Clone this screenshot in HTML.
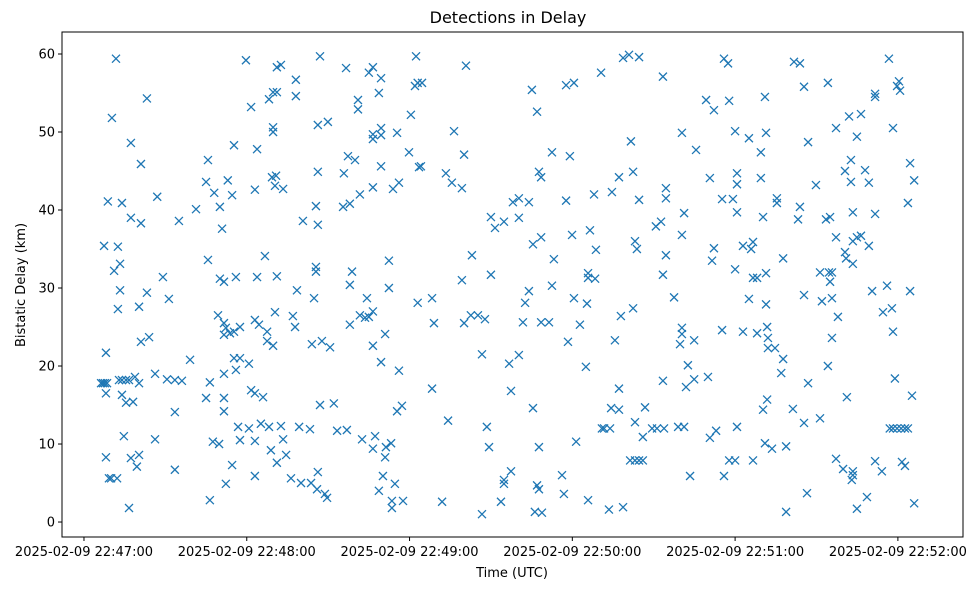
<!DOCTYPE html>
<html><head><meta charset="utf-8"><style>
html,body{margin:0;padding:0;background:#fff;}
svg{display:block;font-family:"DejaVu Sans","Liberation Sans",sans-serif;}
</style></head><body>
<svg id="chart" width="979" height="590" viewBox="0 0 979 590">
<rect x="0" y="0" width="979" height="590" fill="#fff"/>
<text x="508" y="23" text-anchor="middle" font-size="16" fill="#000">Detections in Delay</text>
<g id="marks"></g>
<g id="xticks"></g>
<g id="yticks"></g>
<rect x="62" y="32" width="901" height="505" fill="none" stroke="#000" stroke-width="1"/>
<text x="512" y="577" text-anchor="middle" font-size="13" fill="#000">Time (UTC)</text>
<text x="25" y="285" text-anchor="middle" font-size="13" fill="#000" transform="rotate(-90 25 285)">Bistatic Delay (km)</text>
</svg>
<script>
// seconds after 22:47:00
const times = [11.8,23.2,10.3,17.3,21,45.7,55.3,59.7,61.6,45,53,48,54.6,8.8,14,27,41.3,50.1,17.3,21,35,50.9,7.4,12.5,13.3,11.1,45.7,29.1,50.1,51.6,56,13.3,23.2,31.3,12.5,20.3,49.4,51.6,52.3,51.6,53.8,55.3,57.5,21,24,8.1,39.1,55.3,57.5,60.8,56,51.6,26.2,6.3,7,7.7,8.5,12.9,14,15.5,16.6,18.8,20.3,30.6,33.5,36.1,46.4,8.1,14,15.5,18.1,45,51.6,51.6,33.5,61.6,14.7,26.2,56.8,60.8,57.5,47.5,49.8,8.1,17.3,20.3,19.5,33.5,54.6,9.2,10,12.2,52.3,46.4,16.6,
71.1,72.6,87,96.6,105,106.5,109.5,122.4,122,123,78.1,78.1,69.7,71.1,68.2,101,101,108.7,120.5,69.7,69.7,86.2,89.9,106.5,106.5,109.5,109.5,115.4,63.8,97.3,99.9,119.8,109.5,123.5,69.3,70.8,70.4,73.4,63,86.2,95.8,106.5,113.9,116.1,101.7,95.5,98,85.5,80.7,86.2,66.7,63.8,71.1,85.5,85.5,98.8,98,112.4,112.4,78.5,84.8,104.3,123,70.4,77,77.8,63,64.5,67.5,67.5,69.7,101.7,103.6,105,106.5,98,84,87.7,90.7,106.5,111,109.5,116.1,63,66,87,92.1,115.4,117.2,65.2,68.2,72.6,79.3,83.3,93.3,96.9,102.5,107.3,63,73.4,68.9,74.5,71.1,106.5,111.3,113.2,111,63,76.3,80,83.7,86.2,85.9,88.8,89.6,110.2,114.6,108.7,113.5,113.5,117.6,
140.8,124.6,165.1,177.7,180.6,167,136.4,140.1,124.2,172.5,179.1,133.4,135.6,139.3,167.7,168.5,158.1,160.3,164,177.7,150,151.5,154.8,160.3,168.5,165.5,179.9,186.5,143,173.2,139.3,150,164,162.6,172.5,180.6,185.8,185.8,128.3,129,140.1,142.6,145.2,147.8,161.8,168.5,171.4,182.8,185.4,178.4,146.7,156.7,160.3,185,128.3,157.4,165.5,134.2,148.5,149.3,167.7,181.4,157.4,154.8,154.8,167,167.7,176.2,176.9,185.8,132,146.7,153.7,166.2,168.8,
198.7,200.9,204.6,190.6,213.4,235.9,237.4,229.3,232.2,237.8,251,220.4,240,245.1,251.4,249.5,201.6,225.6,197.2,202.4,230.7,240.7,240.7,249.5,188,194.6,204.6,214.5,214.5,235.2,239.2,240.7,221.2,250.3,210.8,212.7,220.4,188.7,203.1,203.8,214.5,232.2,231.5,242.9,246.6,245.9,188.4,213.4,240,246.6,248.1,251.4,217.5,197.9,202.4,245.1,251.4,195.7,220.4,220.4,219.7,224.9,235.2,242.9,248.1,251.8,252.1,252.1,222.6,224.9,221.9,230,213.4,197.2,194.3,197.2,206.8,203.1,206,190.9,191.7,193.9,209.4,211.2,213.8,219,221.2,230.7,233,240.7,250.3,251.8,251,201.3,203.1,204.6,206,237.8,240,246.6,223.4,235.9,193.5,198.7,
261.7,263.9,296.7,265.4,274.2,300.4,299.7,300.8,291.6,291.6,282,286.4,277.2,284.9,298.2,266.9,282.7,280.5,287.9,282.7,289.3,304.5,306,269.8,255.4,255.4,263.9,263.2,273.5,275,283.4,291.6,303.7,277.2,283.4,284.9,286.4,289.3,257.7,280.5,280.9,283.4,271.3,274.6,275.7,275,265.4,272,275.7,290.5,296,304.5,294.5,297.8,277.9,275.7,298.2,254.7,257.7,257,274.2,266.9,298.9,281.2,305.2,261.3,265.4,271.3,297,298.2,299.7,301.2,302.6,303.7,253.6,258.8,277.2,279.8,283.4,283.4,283,291.6,294.1,301.5,302.6,266.5,288.6,284.9,258.8,306];
// bistatic delay, km
const delays = [59.4,54.3,51.8,48.6,45.9,46.4,48.3,59.2,53.2,43.6,43.8,42.2,41.9,41.1,40.9,41.7,40.1,40.4,39,38.3,38.6,37.6,35.4,35.3,33.1,32.2,33.6,31.4,31.2,30.8,31.4,29.7,29.4,28.6,27.3,27.6,26.5,25.5,24.9,24,24.2,24.4,25,23.1,23.7,21.7,20.8,21,21,20.3,19.5,19,19,17.8,17.8,17.8,17.8,18.2,18.2,18.2,18.2,18.6,17.8,18.3,18.2,18.1,17.9,16.5,16.3,15.3,15.4,15.9,15.9,14.2,14.1,16.9,11,10.6,12.2,12,10.5,10.3,10,8.3,8.2,8.6,7.1,6.7,7.3,5.6,5.6,5.6,4.9,2.8,1.8,
58.3,58.6,59.7,58.2,57.6,58.3,56.9,59.7,55.9,56.3,56.7,54.6,55.1,55.1,54.2,54.1,52.9,55,52.2,50.6,50,50.9,51.3,49.7,49.1,50.5,49.6,49.9,47.8,46.9,46.4,47.4,45.6,45.5,44.2,44.4,43.1,42.7,42.6,44.9,44.7,42.9,42.7,43.5,42,40.4,40.8,40.5,38.6,38.1,34.1,31.4,31.5,32.7,32.1,32.1,30.4,33.5,30,29.7,28.7,28.7,28.1,26.9,26.4,25,25.9,25.3,24.4,23.2,22.6,26.5,26.2,26.3,27,25.3,22.8,23.2,22.4,22.6,24.1,20.5,19.4,16.5,16,15,15.2,14.2,14.9,12.6,12.2,12.3,12.2,11.9,11.7,11.8,10.6,11,10.4,10.6,9.2,8.6,7.6,9.4,9.6,10.1,8.3,5.9,5.6,5,5,6.4,4.2,3.6,3.1,5.9,4.9,4,2.7,1.8,2.7,
58.5,56.3,55.4,56,56.3,52.6,50.1,47.1,45.6,47.4,46.9,44.7,43.5,42.8,44.9,44.2,41,41.5,41,41.2,39.1,37.7,38.5,39,36.5,35.6,36.8,37.4,34.2,33.7,31,31.7,29.6,28.1,30.3,28.7,31.9,31.3,28.7,25.5,25.5,26.5,26.5,26,25.6,25.6,25.6,25.3,28,23.1,21.5,20.3,21.4,19.9,17.1,16.8,14.6,13,12.2,9.6,9.6,10.3,6.5,5.4,4.9,4.7,4.2,6,3.6,2.8,2.6,1,2.6,1.3,1.2,
59.5,59.9,59.6,57.6,57.1,59.4,58.8,54.1,52.8,54,54.5,49.9,50.1,49.2,49.9,47.4,48.8,47.7,44.2,44.9,44.1,44.7,43.3,44.1,42,42.3,41.3,42.8,41.5,41.4,41.4,39.7,39.6,39.1,37.9,38.5,36.8,34.9,36,35,34.2,35.1,33.5,35.4,35.9,35,31.2,31.7,32.4,31.3,31.3,31.9,28.8,26.4,27.4,28.6,27.9,23.3,24.9,24.1,22.8,23.3,24.6,24.4,24.2,25,23.6,22.3,20.1,18.3,17.3,18.6,18.1,17.1,14.6,14.4,14.7,12.8,10.9,12,12,12,12,12,12,12.2,12.2,10.8,11.7,12.2,14.4,15.7,10.1,7.9,7.9,7.9,7.9,7.9,7.9,7.9,5.9,5.9,1.6,1.9,
59,58.8,59.4,55.8,56.3,56.5,55.9,55.3,54.9,54.5,52,52.3,50.5,49.4,50.5,48.7,46.4,45,45.1,43.6,43.5,46,43.8,43.2,41.5,40.9,40.4,38.8,38.8,39.1,39.7,39.5,40.9,36.5,36,36.5,36.7,35.4,33.8,34.6,33.8,33.1,32,32,32,30.8,29.1,28.3,28.7,29.6,30.3,29.6,26.9,27.4,26.3,23.6,24.4,22.3,20.9,19.1,20,17.8,18.4,16,16.2,14.5,12.7,13.3,12,12,12,12,12,12,9.4,9.7,8.1,6.8,6.5,6,5.4,7.8,6.5,7.7,7.2,3.7,3.2,1.7,1.3,2.4];
const xTickSecs = [0,60,120,180,240,300];
const xTickLabels = ["2025-02-09 22:47:00","2025-02-09 22:48:00","2025-02-09 22:49:00","2025-02-09 22:50:00","2025-02-09 22:51:00","2025-02-09 22:52:00"];
const yTickVals = [0,10,20,30,40,50,60];

const NS = "http://www.w3.org/2000/svg";
const xMin = -8.1, xMax = 324.0, yMin = -1.92, yMax = 62.82;
const L = 62, R = 963, T = 32, B = 537;
function xs(v){ return L + (v - xMin) / (xMax - xMin) * (R - L); }
function ys(v){ return B - (v - yMin) / (yMax - yMin) * (B - T); }

const marks = document.getElementById('marks');
const n = Math.min(times.length, delays.length);
for (let i = 0; i < n; i++) {
  const cx = xs(times[i]), cy = ys(delays[i]), h = 4;
  const p = document.createElementNS(NS, 'path');
  p.setAttribute('d', `M${cx-h},${cy-h}L${cx+h},${cy+h}M${cx-h},${cy+h}L${cx+h},${cy-h}`);
  p.setAttribute('stroke', '#1f77b4');
  p.setAttribute('stroke-width', '1.3');
  p.setAttribute('fill', 'none');
  
  
  marks.appendChild(p);
}
const xg = document.getElementById('xticks');
xTickSecs.forEach((s, i) => {
  const x = xs(s);
  const ln = document.createElementNS(NS, 'line');
  ln.setAttribute('x1', x); ln.setAttribute('x2', x);
  ln.setAttribute('y1', B); ln.setAttribute('y2', B + 4);
  ln.setAttribute('stroke', '#000');
  
  
  xg.appendChild(ln);
  const t = document.createElementNS(NS, 'text');
  t.setAttribute('x', x); t.setAttribute('y', B + 19);
  t.setAttribute('text-anchor', 'middle');
  t.setAttribute('font-size', '13');
  t.textContent = xTickLabels[i];
  
  
  xg.appendChild(t);
});
const yg = document.getElementById('yticks');
yTickVals.forEach(v => {
  const y = ys(v);
  const ln = document.createElementNS(NS, 'line');
  ln.setAttribute('x1', L - 4); ln.setAttribute('x2', L);
  ln.setAttribute('y1', y); ln.setAttribute('y2', y);
  ln.setAttribute('stroke', '#000');
  
  
  yg.appendChild(ln);
  const t = document.createElementNS(NS, 'text');
  t.setAttribute('x', L - 7); t.setAttribute('y', y + 4.5);
  t.setAttribute('text-anchor', 'end');
  t.setAttribute('font-size', '13');
  t.textContent = String(v);
  
  
  yg.appendChild(t);
});
</script>
</body></html>
